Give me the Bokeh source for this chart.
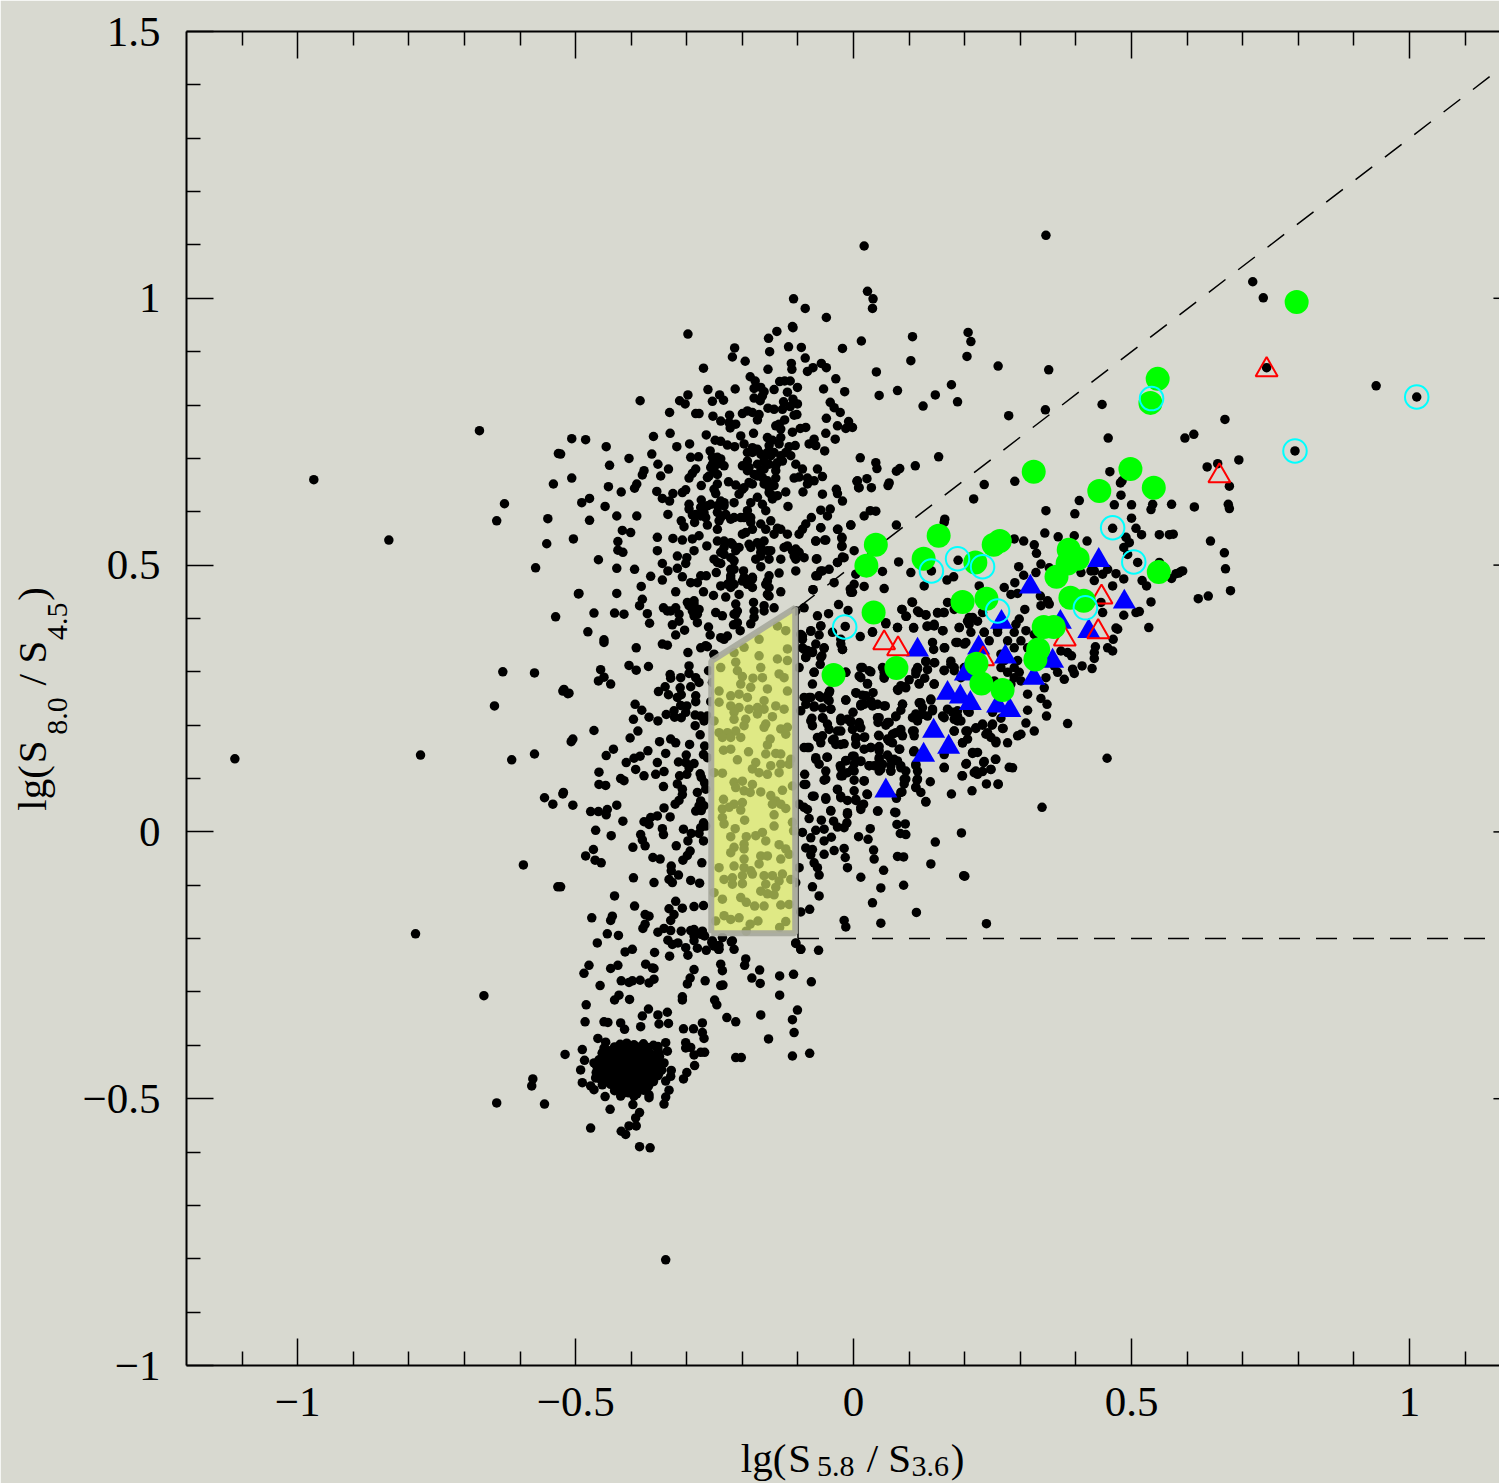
from bokeh.plotting import figure
from bokeh.models import LinearAxis, FixedTicker
from bokeh.embed import file_html
from bokeh.resources import INLINE

# ---------- data: (lg(S5.8/S3.6), lg(S8.0/S4.5)) ----------
upper_stream = [
(-.298,.933),(-.110,.947),(-.138,.938),(-.153,.925),(-.214,.907),(-.218,.890),(-.151,.900),(-.117,.909),(-.094,.908),(-.087,.888),(-.020,.906),(-.195,.882),(-.270,.869),(-.154,.867),(-.112,.878),(-.111,.867),(-.083,.863),(-.073,.870),(-.058,.878),(-.049,.870),(-.032,.849),(-.186,.853),(-.177,.845),(-.133,.844),(-.124,.845),(-.114,.845),(-.262,.829),(-.213,.830),
(-.179,.831),(-.167,.833),(-.161,.825),(-.143,.829),(-.119,.824),(-.101,.833),(-.054,.830),(-.016,.825),(-.241,.819),(-.234,.809),(-.298,.819),(-.313,.808),(-.303,.802),(-.254,.807),(-.384,.808),(-.179,.813),(-.168,.808),(-.164,.817),(-.126,.806),(-.109,.811),(-.101,.802),(-.114,.797),(-.128,.792),(-.143,.792),(-.154,.794),(-.042,.805),(-.035,.795),(-.024,.786),
(-.331,.786),(-.284,.784),(-.278,.784),(-.253,.779),(-.223,.781),(-.200,.784),(-.191,.789),(-.182,.786),(-.170,.782),(-.173,.772),(-.107,.781),(-.102,.782),(-.239,.770),(-.224,.767),(-.212,.764),(-.222,.757),(-.124,.772),(-.134,.764),(-.140,.761),(-.131,.755),(-.049,.775),(-.009,.769),(-.029,.761),(-.014,.756),(-.002,.758),(-.096,.756),(-.086,.758),(-.110,.749),
(-.360,.741),(-.330,.747),(-.265,.744),(-.203,.742),(-.180,.747),(-.155,.739),(-.146,.734),(-.131,.739),(-.134,.727),(-.152,.724),(-.050,.747),(-.033,.736),(-.071,.736),(-.080,.727),(-.068,.724),(-.105,.724),(-.116,.722),(-.507,.737),(-.482,.735),(-.445,.722),(-.527,.708),(-.318,.722),(-.295,.727),(-.249,.734),(-.239,.732),(-.227,.725),(-.214,.722),
(-.197,.727),(-.182,.720),(-.191,.711),(-.167,.708),(-.161,.702),(-.149,.705),(-.131,.705),(-.113,.705),(-.052,.714),(-.258,.714),(-.363,.708),(-.404,.700),(-.439,.687),(-.352,.689),(-.293,.702),(-.279,.703),(-.254,.702),(-.245,.702),(-.254,.689),(-.233,.686),(-.245,.689),
(-.333,.680),(-.377,.677),(-.380,.669),(-.284,.680),(-.290,.672),(-.296,.663),(-.347,.667),(-.507,.663),(-.200,.686),(-.191,.677),(-.179,.670),(-.167,.677),(-.161,.695),(-.137,.692),(-.128,.695),(-.104,.689),(-.092,.680),(-.065,.680),(-.056,.666),(-.140,.677),(-.140,.663),(-.107,.663),(-.098,.665),(-.083,.663),(-.071,.658),(-.083,.652),(.007,.658),(.009,.645),
(-.260,.667),(-.245,.670),(-.245,.652),(-.251,.642),(-.248,.634),(-.274,.649),(-.225,.656),(-.212,.650),(-.188,.655),(-.197,.645),(-.206,.633),(-.215,.617),(-.164,.664),(-.161,.652),(-.152,.636),(-.143,.649),(-.137,.630),(-.146,.624),(-.390,.652),(-.394,.644),(-.441,.647),(-.418,.637),(-.354,.638),(-.344,.625),(-.331,.620),(-.325,.634),(-.308,.636),(-.302,.641),
(-.122,.637),(-.091,.637),(-.056,.633),(-.031,.642),(-.029,.634),(-.020,.620),(-.118,.610),(-.475,.625),(-.489,.617),(-.447,.610),(-.426,.592),(-.390,.592),(-.475,.584),(-.334,.595),(-.274,.622),(-.296,.614),(-.296,.605),(-.290,.594),(-.275,.608),(-.275,.592),(-.263,.611),(-.266,.589),(-.263,.575),(-.239,.620),(-.233,.611),(-.245,.599),(-.230,.595),(-.242,.583),(-.245,.567),
(-.185,.617),(-.173,.627),(-.164,.614),(-.191,.602),(-.158,.602),(-.215,.589),(-.197,.589),(-.185,.580),(-.167,.577),(-.149,.583),(-.137,.569),(-.131,.567),(-.119,.558),(-.059,.603),(-.076,.589),(-.042,.605),(-.047,.592),(-.086,.577),(-.092,.567),(-.098,.558),(-.059,.570),(-.028,.567),(-.005,.575),(-.310,.583),(-.305,.572),(-.286,.580),(-.416,.565),(-.401,.561),(-.424,.544),(-.504,.549),(-.353,.552),(-.325,.550),(-.308,.547),
(-.290,.549),(-.278,.555),(-.264,.536),(-.287,.527),(-.353,.527),(-.424,.528),(-.415,.524),(-.459,.510),(-.245,.545),(-.233,.533),(-.218,.539),(-.206,.533),(-.239,.524),(-.221,.514),(-.215,.508),(-.200,.558),(-.188,.539),(-.167,.533),(-.149,.527),(-.167,.517),(-.152,.511),(-.176,.511),(-.131,.511),(-.125,.533),(-.104,.530),(-.104,.511),(-.089,.514),(-.068,.545),(-.050,.547),(-.021,.550),(-.021,.535),(.001,.527),
(-.317,.517),(-.300,.514),(-.302,.503),(-.251,.511),(-.239,.503),(-.247,.486),(-.221,.492),(-.167,.497),(-.066,.512),(-.104,.489),(-.017,.514),(-.029,.505),(-.044,.492),(-.056,.489),(-.065,.480),(-.344,.503),(-.426,.494),(-.394,.492),(-.334,.489),(-.317,.494),(-.365,.479),(-.344,.472),(-.308,.478),(-.275,.480),(-.265,.480),(-.293,.467),(-.281,.467),
(-.198,.489),(-.200,.470),(-.182,.477),(-.152,.480),(-.134,.485),(-.158,.464),(-.221,.474),(-.239,.461),(-.221,.458),(-.182,.458),(-.155,.445),(-.382,.460),(-.426,.447),(-.494,.447),(-.320,.450),(-.270,.450),(-.252,.443),(-.230,.440),(-.206,.445),(-.131,.450),(-.073,.454),(-.035,.467),(-.005,.449),(.001,.464),
(-.380,.436),(-.385,.424),(-.467,.410),(-.430,.410),(-.413,.408),(-.371,.409),(-.367,.391),(-.342,.420),(-.329,.414),(-.314,.408),(-.314,.395),(-.299,.430),(-.287,.427),(-.281,.408),(-.281,.392),(-.248,.411),(-.236,.405),(-.212,.427),(-.215,.408),(-.209,.392),(-.180,.430),(-.179,.414),(-.161,.424),(-.143,.420),
(-.326,.388),(-.304,.378),(-.320,.369),(-.261,.384),(-.258,.369),(-.216,.388),(-.185,.390),(-.204,.377),(-.227,.367),(-.239,.364),(-.478,.375),(-.449,.360),(-.233,.361),(-.266,.349),(-.251,.333),
]
upper_stream_dense = [
(-.182,.711),(-.173,.717),(-.155,.711),(-.143,.711),(-.122,.711),(-.191,.695),(-.173,.689),(-.152,.689),(-.188,.683),(-.161,.680),(-.173,.667),(-.140,.686),(-.155,.658),(-.182,.652),(-.200,.642),(-.152,.645),(-.149,.633),(-.257,.683),(-.251,.677),(-.239,.699),(-.248,.692),(-.263,.664),(-.233,.617),(-.245,.611),(-.257,.614),(-.269,.598),(-.284,.595),(-.239,.589),(-.221,.586),(-.203,.589),(-.185,.589),(-.182,.567),(-.194,.561),(-.158,.567),(-.143,.558),(-.161,.545),(-.173,.542),(-.155,.527),(-.167,.524),(-.185,.533),(-.233,.545),(-.221,.542),(-.212,.527),(-.233,.520),(-.119,.536),(-.110,.527),(-.098,.524),(-.107,.517),(-.245,.505),(-.215,.492),(-.221,.480),(-.215,.464),(-.227,.464),(-.155,.470),(-.152,.458),(-.152,.442),(-.182,.474),(-.197,.477),(-.191,.464),(-.287,.433),(-.296,.424),(-.290,.414),(-.278,.417),(-.287,.405),(-.335,.414),(-.320,.420),(-.212,.408),(-.179,.402),(-.209,.414),(-.161,.414),
]
lower_stream = [
(-.449,.355),(-.391,.345),(-.335,.350),(-.344,.352),(-.298,.336),(-.275,.345),(-.263,.347),(-.251,.332),(-.404,.312),(-.391,.303),(-.369,.310),(-.296,.311),(-.296,.297),(-.261,.302),(-.455,.304),(-.449,.290),(-.459,.283),(-.437,.277),(-.521,.267),(-.512,.260),
(-.330,.295),(-.329,.288),(-.311,.289),(-.284,.289),(-.278,.280),(-.293,.272),(-.312,.270),(-.339,.272),(-.351,.263),(-.333,.257),(-.317,.252),(-.310,.257),(-.284,.255),(-.284,.244),(-.254,.280),(-.248,.261),(-.393,.239),(-.381,.228),(-.368,.215),(-.396,.211),(-.352,.208),(-.337,.220),(-.323,.227),(-.322,.215),(-.310,.214),(-.311,.237),(-.300,.236),(-.302,.224),(-.285,.219),(-.275,.217),(-.263,.217),(-.269,.208),(-.257,.244),
(-.467,.190),(-.388,.189),(-.402,.176),(-.508,.169),(-.285,.199),(-.276,.182),(-.349,.169),(-.329,.174),(-.320,.167),(-.295,.164),(-.268,.161),(-.432,.155),(-.445,.143),(-.370,.152),(-.384,.142),(-.395,.138),(-.409,.130),(-.338,.147),(-.301,.144),(-.270,.145),(-.263,.139),(-.353,.130),(-.315,.131),(-.302,.130),(-.287,.128),(-.296,.120),
(-.392,.117),(-.458,.112),(-.377,.105),(-.356,.108),(-.341,.113),(-.313,.105),(-.300,.108),(-.276,.109),(-.274,.102),(-.419,.100),(-.413,.096),(-.458,.089),(-.446,.087),(-.342,.085),(-.317,.090),(-.308,.080),(-.268,.092),(-.266,.080),(-.281,.074),(-.522,.074),(-.308,.070),(-.314,.059),(-.321,.052),(-.505,.050),(-.426,.050),(-.275,.058),(-.269,.049),(-.278,.049),
(-.341,.045),(-.473,.038),(-.459,.038),(-.443,.042),(-.445,.032),(-.284,.039),(-.274,.040),(-.353,.030),(-.330,.028),(-.365,.027),(-.377,.019),(-.368,.014),(-.415,.020),(-.270,.017),(-.275,.008),(-.266,.011),(-.464,.003),(-.344,.006),(-.342,-.005),(-.306,.005),(-.292,-.003),(-.278,-.003),(-.436,-.007),(-.383,-.005),(-.380,-.015),(-.270,-.017),(-.298,-.017),
(-.397,-.029),(-.375,-.026),(-.319,-.026),(-.468,-.033),(-.294,-.036),(-.299,-.044),(-.482,-.045),(-.465,-.053),(-.454,-.058),(-.361,-.048),(-.348,-.051),(-.307,-.053),(-.273,-.058),(-.328,-.064),(-.328,-.073),(-.315,-.081),(-.396,-.086),(-.332,-.089),(-.326,-.095),(-.359,-.095),(-.293,-.091),(-.277,-.096),(-.527,-.103),
(-.430,-.120),(-.320,-.130),(-.394,-.139),(-.332,-.144),(-.308,-.143),(-.287,-.140),(-.270,-.138),(-.375,-.155),(-.368,-.158),(-.323,-.155),(-.329,-.166),(-.471,-.161),(-.434,-.158),(-.437,-.166),(-.375,-.173),(-.379,-.181),(-.341,-.181),(-.329,-.185),(-.352,-.188),(-.310,-.186),(-.287,-.183),(-.287,-.195),(-.272,-.186),(-.268,-.195),(-.443,-.191),(-.423,-.194),
(-.334,-.203),(-.326,-.211),(-.316,-.208),(-.302,-.217),(-.461,-.208),(-.254,-.208),(-.242,-.220),(-.281,-.218),(-.265,-.222),(-.411,-.225),(-.398,-.220),(-.358,-.226),(-.331,-.233),(-.298,-.231),(-.476,-.250),(-.437,-.256),(-.424,-.250),(-.374,-.248),(-.362,-.255),(-.287,-.258),(-.239,-.248),
(-.293,-.185),(-.275,-.192),(-.254,-.204),(-.236,-.198),(-.218,-.204),(-.287,-.204),(-.251,-.214),(-.242,-.213),(-.243,-.220),(-.215,-.220),(-.220,-.206),(-.255,-.207),(-.104,-.209),(-.095,-.220),(-.063,-.222),
(-.485,-.265),(-.418,-.279),(-.404,-.282),(-.398,-.279),(-.384,-.278),(-.368,-.283),(-.359,-.276),(-.359,-.256),(-.456,-.288),(-.294,-.274),(-.299,-.285),(-.267,-.279),(-.236,-.260),(-.239,-.288),(-.235,-.287),(-.169,-.259),(-.183,-.274),(-.168,-.284),(-.133,-.270),(-.108,-.267),(-.076,-.281),(-.194,-.238),(-.196,-.250),
(-.422,-.306),(-.430,-.315),(-.403,-.314),(-.481,-.324),(-.308,-.309),(-.308,-.315),(-.250,-.315),(-.246,-.324),(-.133,-.306),(-.369,-.332),(-.380,-.345),(-.352,-.343),(-.335,-.338),(-.167,-.343),(-.101,-.334),(-.228,-.348),(-.212,-.356),(-.110,-.352),(-.483,-.356),(-.449,-.356),(-.442,-.357),(-.419,-.358),(-.412,-.370),(-.383,-.365),(-.350,-.360),(-.333,-.359),(-.306,-.369),(-.288,-.369),(-.272,-.358),(-.272,-.376),(-.269,-.387),(-.107,-.376),(-.153,-.388),
(-.302,-.395),(-.293,-.404),(-.302,-.405),(-.275,-.413),(-.287,-.418),(-.268,-.413),(-.212,-.423),(-.202,-.423),(-.110,-.420),(-.079,-.415),(-.286,-.438),(-.300,-.451),(-.306,-.463),(-.460,-.387),(-.488,-.408),(-.519,-.417),(-.484,-.428),(-.491,-.446),(-.577,-.463),
]
blob_dots = [
(-.420,-.398),(-.408,-.396),(-.395,-.399),(-.378,-.397),(-.360,-.400),(-.440,-.410),(-.428,-.408),(-.413,-.411),(-.400,-.409),(-.386,-.412),(-.372,-.410),(-.352,-.408),
(-.446,-.421),(-.432,-.422),(-.420,-.420),(-.405,-.423),(-.392,-.421),(-.378,-.420),(-.362,-.422),(-.349,-.421),(-.452,-.433),(-.438,-.432),(-.425,-.434),(-.411,-.433),(-.398,-.431),(-.384,-.434),(-.370,-.432),(-.355,-.433),
(-.455,-.445),(-.441,-.444),(-.428,-.446),(-.414,-.445),(-.401,-.443),(-.387,-.446),(-.373,-.444),(-.358,-.445),(-.345,-.446),(-.450,-.457),(-.436,-.456),(-.423,-.458),(-.409,-.457),(-.396,-.455),(-.381,-.458),(-.367,-.456),(-.352,-.457),
(-.444,-.468),(-.430,-.467),(-.417,-.469),(-.403,-.468),(-.389,-.466),(-.375,-.469),(-.360,-.468),(-.425,-.480),(-.412,-.479),(-.398,-.481),(-.385,-.480),(-.370,-.478),(-.415,-.490),(-.405,-.489),(-.390,-.491),
(-.430,-.403),(-.415,-.402),(-.402,-.404),(-.388,-.403),(-.370,-.404),(-.352,-.402),(-.452,-.415),(-.435,-.416),(-.420,-.414),(-.407,-.416),(-.393,-.415),(-.379,-.414),(-.365,-.416),(-.350,-.415),
(-.458,-.427),(-.442,-.426),(-.426,-.428),(-.413,-.427),(-.399,-.426),(-.385,-.428),(-.371,-.427),(-.357,-.426),(-.462,-.439),(-.447,-.438),(-.432,-.440),(-.418,-.439),(-.405,-.438),(-.391,-.440),(-.377,-.439),(-.364,-.438),(-.350,-.440),
(-.463,-.451),(-.448,-.450),(-.434,-.452),(-.420,-.451),(-.407,-.450),(-.393,-.452),(-.379,-.451),(-.365,-.450),(-.350,-.452),(-.458,-.462),(-.443,-.461),(-.430,-.463),(-.416,-.462),(-.402,-.461),(-.388,-.463),(-.374,-.462),(-.360,-.461),
(-.452,-.474),(-.437,-.473),(-.424,-.475),(-.410,-.474),(-.396,-.473),(-.382,-.475),(-.368,-.474),(-.430,-.485),(-.417,-.484),(-.405,-.486),(-.392,-.485),(-.378,-.484),
(-.449,-.405),(-.452,-.414),(-.488,-.470),(-.473,-.476),(-.467,-.483),(-.464,-.461),(-.467,-.433),(-.447,-.496),(-.438,-.520),(-.556,-.510),(-.473,-.555),(-.397,-.511),(-.419,-.495),(-.395,-.495),(-.368,-.498),(-.368,-.493),(-.341,-.510),(-.338,-.497),(-.332,-.484),(-.338,-.467),(-.329,-.458),(-.328,-.447),(-.341,-.433),(-.335,-.411),(-.338,-.395),(-.446,-.394),
(-.385,-.526),(-.392,-.536),(-.391,-.551),(-.404,-.551),(-.418,-.561),(-.410,-.567),(-.385,-.590),(-.366,-.592),
]
far_left_dots = [
(-1.113,.137),(-.971,.660),(-.836,.547),(-.779,.144),(-.788,-.191),(-.665,-.307),(-.673,.752),(-.642,-.508),(-.579,-.476),(-.642,.583),(-.628,.615),(-.631,.300),(-.646,.236),(-.615,.135),(-.574,.298),(-.574,.146),(-.594,-.062),(-.532,-.103),(-.338,-.802),
(-.572,.495),(-.550,.587),(-.552,.540),(-.536,.403),(-.531,.709),(-.523,.264),(-.514,.259),(-.505,.174),(-.556,.064),(-.541,.052),(-.523,.071),(-.495,.446),(-.540,.652),
]
wedge_dots = [
(-.089,.420),(-.104,.414),(-.065,.405),(-.045,.409),(-.027,.426),(-.010,.415),(-.015,.385),(.012,.366),(-.059,.386),(-.077,.376),(-.062,.369),(-.038,.374),(-.095,.370),(-.092,.361),(-.023,.352),(-.020,.342),(-.068,.352),(-.083,.340),(-.074,.338),(-.092,.345),(-.053,.344),(-.057,.330),(-.060,.314),(-.086,.327),(-.098,.308),(-.071,.299),
(.058,.390),(.079,.383),(.034,.374),(.087,.417),(.095,.404),(.106,.430),(.118,.411),(.130,.407),(.151,.410),(.162,.411),(.108,.382),(.132,.385),(.145,.386),(.161,.377),(.190,.383),(.208,.389),(.214,.402),(.235,.374),(.259,.380),(.142,.355),(.144,.342),(.164,.345),(.184,.355),(.199,.352),(.130,.319),(.146,.317),(.175,.320),(.163,.303),(.181,.302),(.133,.304),(.115,.305),(.112,.296),(.128,.288),(.145,.277),(.100,.285),(.118,.278),
(.016,.308),(.031,.300),(.010,.292),(.025,.278),(.055,.299),(.055,.288),(-.014,.299),(.093,.272),(.080,.265),(.035,.261),(.005,.260),(.016,.256),(-.014,.247),(-.043,.264),(-.047,.255),(-.077,.252),(-.089,.252),(-.059,.252),(-.044,.246),(-.086,.239),(-.071,.234),(-.056,.232),(-.041,.230),(-.095,.227),
(.031,.245),(.019,.239),(.043,.239),(.057,.236),(.013,.236),(.088,.239),(.085,.228),(.121,.242),(.124,.233),(.139,.247),(.142,.230),(.169,.230),(.187,.227),(.205,.227),(.250,.224),(-.001,.224),(-.011,.211),(-.023,.213),(.046,.214),(.076,.216),(.044,.205),(.064,.205),(.058,.200),(.112,.221),(.106,.214),(.115,.208),(.133,.217),(.160,.217),(.181,.211),(.193,.208),(.187,.217),(.265,.213),
(-.075,.213),(-.074,.199),(-.055,.213),(-.047,.202),(-.044,.192),(-.029,.189),(-.005,.205),(.010,.202),(-.002,.192),(.013,.195),(.076,.186),(.085,.192),(.088,.180),(.106,.189),(.109,.180),(.232,.200),(.220,.194),(.249,.200),(.269,.194),(.181,.189),(.205,.189),(.241,.186),(.247,.177),
(-.065,.177),(-.056,.180),(-.059,.167),(-.038,.172),(-.023,.164),(-.017,.165),(.004,.174),(.020,.178),(.045,.181),(.061,.174),(.070,.167),(.205,.174),(.196,.167),(.256,.167),(.277,.167),(-.089,.158),(-.080,.158),(.019,.155),(.031,.158),(.046,.160),(.083,.155),(.108,.150),(.214,.147),(.223,.149),
(-.068,.139),(-.048,.140),(-.002,.142),(.046,.139),(.061,.144),(.067,.136),(.079,.133),(-.062,.127),(-.014,.133),(.013,.133),(.001,.127),(-.024,.124),(.028,.124),(.037,.124),(.052,.127),(.067,.124),(.085,.124),(.112,.127),(.203,.128),(.234,.130),(.255,.136),(.163,.121),
(-.050,.114),(.001,.114),(-.023,.105),(-.011,.111),(.046,.114),(.067,.114),(.094,.114),(.115,.114),(.217,.111),(.232,.113),(.247,.117),(.280,.121),(.195,.105),(.223,.108),(-.088,.108),(-.053,.097),(.001,.097),(.019,.096),(.094,.099),(.114,.097),(.138,.094),(.091,.090),(.239,.090),(.260,.090),(-.089,.089),
(.001,.077),(-.029,.079),(.024,.071),(-.074,.067),(-.050,.064),(-.023,.067),(-.011,.059),(.004,.059),(.087,.075),(.112,.084),(.121,.074),(.077,.063),(.130,.057),(.176,.071),(.213,.077),(-.098,.052),(-.083,.042),(-.041,.040),(.013,.042),(.018,.052),(.044,.039),(.074,.037),
(-.080,.025),(-.058,.022),(-.011,.036),(-.036,.020),(-.012,.017),(-.029,.009),(-.017,.008),(.078,.014),(.093,.015),(.030,.006),(-.092,-.001),(-.068,.003),(-.053,.005),(.084,-.003),(.094,-.005),(.194,-.002),(.009,-.009),(.026,-.014),(-.077,-.011),(-.053,-.017),(-.040,-.010),(.147,-.019),
(-.086,-.030),(-.074,-.033),(-.077,-.043),(-.053,-.042),(-.035,-.035),(-.017,-.031),(.036,-.034),(-.015,-.048),(.037,-.051),(.079,-.046),(.090,-.047),(-.071,-.058),(-.011,-.067),(-.065,-.067),(.139,-.060),(-.098,-.067),(.054,-.072),(-.062,-.081),(.013,-.085),(.200,-.083),(.090,-.100),(.049,-.105),(-.074,-.103),(-.062,-.120),(.034,-.133),(-.104,-.095),(-.095,-.150),(-.079,-.145),(.113,-.151),(-.017,-.166),(-.014,-.178),(.049,-.171),(.239,-.172),(-.104,-.208),(-.095,-.220),
]
wedge_dense = [
(-.077,.377),(-.059,.386),(-.023,.361),(-.020,.342),(-.092,.367),(-.053,.345),(-.089,.342),(-.074,.336),(-.059,.327),(-.086,.327),(-.071,.299),(.013,.308),(.028,.302),(.013,.289),(.055,.292),(.052,.308),(.112,.302),(.130,.320),(.145,.317),(.115,.308),(.085,.274),(.094,.270),(.118,.277),(.145,.277),(-.014,.299),(.025,.277),(-.074,.277),(-.044,.261),
(-.062,.255),(-.047,.249),(-.080,.252),(-.041,.230),(-.071,.236),(-.014,.247),(.004,.261),(.022,.255),(.013,.239),(.034,.236),(.055,.236),(.088,.239),(.079,.267),(.118,.242),(.139,.249),(.124,.220),(.112,.214),(.142,.227),(.163,.214),(.187,.208),(.178,.224),(.208,.224),(.232,.202),(.250,.202),(.043,.214),(.076,.217),(.061,.205),(.010,.205),(-.005,.208),(-.023,.208),(-.056,.214),(-.077,.208),
(-.059,.177),(-.035,.174),(-.023,.189),(.004,.177),(.019,.177),(.046,.180),(.070,.183),(.085,.186),(.109,.189),(.181,.189),(.202,.189),(.220,.195),(.238,.183),(.256,.170),(-.083,.158),(-.032,.164),(.004,.164),(.031,.158),(.046,.152),(.064,.170),(.082,.155),(.109,.152),(.163,.145),(.196,.167),(.214,.149),
(-.068,.136),(-.047,.140),(-.014,.134),(.001,.142),(.013,.132),(.046,.136),(.073,.136),(-.023,.120),(-.002,.117),(.028,.124),(.049,.117),(.085,.120),(.112,.124),(.163,.120),(.202,.127),(.235,.132),(-.050,.099),(-.020,.105),(.019,.095),(.067,.114),(.091,.099),(.115,.099),(.196,.105),(.220,.114),(-.086,.089),(-.029,.080),(.025,.070),(.112,.083),(.085,.074),(-.071,.067),(-.023,.064),(.004,.061),(-.050,.061),(-.089,.046),(-.041,.039),(-.011,.033),(.013,.046),(.043,.039),(.076,.036),(.130,.056),
]
right_dots = [
(-.059,.570),(-.029,.567),(-.005,.575),(.077,.575),(-.021,.552),(-.068,.545),(-.052,.547),(-.021,.536),(-.067,.511),(-.029,.505),(-.020,.515),(.081,.506),(.052,.488),(.103,.486),(-.059,.489),(-.068,.480),(.004,.483),(-.006,.455),(-.002,.449),(.019,.460),(.055,.456),(-.073,.454),(.127,.461),(.168,.472),(.180,.478),(.188,.509),(.140,.489),(.226,.461),
(.163,.580),(.289,.549),(.306,.545),(.325,.538),(.329,.522),(.344,.560),(.368,.553),(.397,.555),(.420,.545),(.550,.557),(.568,.557),(.575,.558),(.508,.569),(.518,.557),(.490,.552),(.496,.542),(.486,.533),(.493,.520),(.511,.505),(.550,.505),(.589,.488),(.580,.484),(.572,.475),(.519,.471),(.527,.461),(.486,.474),(.466,.461),(.472,.484),(.448,.483),(.466,.569),
(.297,.497),(.306,.481),(.290,.467),(.271,.458),(.283,.445),(.295,.447),(.328,.486),(.337,.502),(.352,.495),(.336,.442),(.409,.486),(.427,.489),(.433,.489),(.457,.492),(.433,.471),(.349,.433),(.308,.417),(.337,.424),(.298,.399),(.292,.389),(.289,.374),(.310,.377),(.325,.370),(.352,.427),(.445,.430),(.448,.411),(.535,.431),(.620,.437),(.508,.411),(.514,.413),(.486,.406),(.531,.383),(.472,.382),(.475,.380),(.467,.361),(.457,.345),(.466,.339),(.435,.347),(.433,.336),(.433,.325),(.411,.311),(.429,.306),
(.373,.339),(.385,.336),(.392,.330),(.361,.311),(.367,.299),(.379,.286),(.394,.305),(.397,.297),(.346,.289),(.343,.270),(.337,.250),(.348,.239),(.313,.258),(.313,.228),(.347,.217),(.385,.203),(.325,.189),(.310,.204),(.456,.138),(.339,.046),(.295,.180),(.301,.183),(.286,.120),(.256,.136),(.247,.117),(.260,.089),(.268,.194),
(.265,.308),(.277,.299),(.289,.308),(.298,.299),(.289,.289),(.271,.321),(.295,.321),(.301,.283),(.283,.277),(.199,.308),(.175,.314),(.163,.302),(.193,.289),(.181,.308),(.253,.283),(.265,.333),(.244,.358),(.259,.374),(.289,.345),(.313,.345),(.301,.358),(.277,.358),(.205,.395),(.223,.395),(.190,.383),(.211,.374),(.235,.374),(.202,.355),(.187,.355),(.163,.345),(.145,.389),(.133,.386),(.160,.377),(.108,.383),(.079,.383),(.058,.392),(.034,.375),(.151,.411),(.163,.411),(.169,.430),(.115,.414),(.130,.406),(.094,.404),(.087,.417),(.105,.431),(.181,.417),(.208,.402),(.232,.411),
(.642,.545),(.667,.523),(.669,.493),(.678,.452),(.638,.442),(.585,.485),(.592,.489),(.198,-.082),
]
top_dots = [
(.019,1.098),(.346,1.118),(.025,1.013),(.035,.999),(.034,.981),(-.108,.999),(-.087,.981),(-.049,.964),(-.109,.945),(.206,.936),(.106,.928),(.211,.919),(.014,.920),(.204,.891),(.103,.883),(.260,.873),(.351,.866),(.041,.862),(.176,.838),(.079,.827),(.046,.818),(.147,.819),(.187,.806),(.125,.798),(.279,.780),(.345,.791),(.012,.701),(.153,.703),(.040,.692),(.042,.681),(.111,.686),(.083,.681),(.077,.676),(.024,.662),(.006,.657),(.010,.645),(.032,.645),(.064,.654),(.062,.649),(.235,.651),(.290,.657),(.216,.624),(.346,.602),(.398,.596),(.406,.621),(.164,.586),(.019,.592),(.030,.602),(.040,.601),
(.718,1.031),(.737,1.001),(.743,.870),(.940,.836),(1.013,.815),(.794,.714),(.668,.773),(.612,.745),(.596,.738),(.458,.738),(.447,.801),(.693,.697),(.655,.690),(.636,.684),(.676,.648),(.461,.675),(.483,.658),(.480,.654),(.481,.631),(.469,.613),(.500,.613),(.538,.614),(.535,.604),(.572,.614),(.613,.609),(.674,.614),(.676,.606),(.500,.588),
]
box_dots = [
(-.137,.386),(-.122,.377),(-.170,.361),(-.119,.343),(-.215,.336),(-.197,.346),(-.170,.330),(-.137,.324),(-.119,.321),(-.239,.308),(-.212,.318),(-.209,.302),(-.167,.308),(-.164,.289),(-.200,.291),(-.181,.288),(-.134,.296),(-.125,.289),(-.203,.277),(-.242,.264),(-.155,.268),(-.185,.271),(-.221,.255),(-.206,.258),(-.191,.252),(-.119,.264),(-.242,.243),(-.161,.246),(-.221,.236),(-.206,.233),(-.188,.230),(-.173,.233),(-.161,.230),(-.140,.236),(-.125,.230),(-.215,.224),(-.173,.221),(-.146,.216),(-.251,.208),(-.215,.211),(-.194,.211),(-.158,.202),(-.197,.199),(-.161,.196),(-.131,.193),(-.119,.196),
(-.242,.186),(-.227,.186),(-.212,.189),(-.236,.177),(-.221,.177),(-.203,.177),(-.122,.183),(-.150,.174),(-.155,.163),(-.234,.153),(-.221,.155),(-.189,.150),(-.158,.146),(-.140,.147),(-.131,.146),(-.209,.135),(-.176,.130),(-.131,.127),(-.113,.136),(-.182,.118),(-.149,.124),(-.170,.111),(-.155,.108),(-.134,.111),(-.116,.127),(-.236,.110),(-.251,.111),
(-.215,.093),(-.200,.095),(-.182,.089),(-.212,.083),(-.197,.077),(-.186,.074),(-.167,.075),(-.128,.078),(-.110,.086),(-.149,.068),(-.140,.058),(-.234,.061),(-.215,.052),(-.200,.055),(-.236,.043),(-.224,.046),(-.203,.041),(-.146,.052),(-.131,.052),(-.122,.044),(-.236,.027),(-.196,.022),(-.143,.032),(-.110,.018),(-.233,.015),(-.143,.011),(-.213,.006),(-.108,.002),
(-.176,-.007),(-.164,-.001),(-.221,-.009),(-.193,-.009),(-.158,-.017),(-.197,-.023),(-.134,-.024),(-.215,-.029),(-.221,-.039),(-.197,-.032),(-.122,-.032),(-.116,-.042),(-.167,-.045),(-.155,-.045),(-.197,-.051),(-.131,-.051),(-.170,-.060),(-.242,-.067),(-.215,-.064),(-.197,-.067),(-.185,-.073),(-.128,-.079),(-.233,-.089),(-.218,-.086),(-.200,-.082),(-.182,-.079),(-.161,-.082),(-.146,-.082),(-.134,-.092),(-.113,-.089),
(-.218,-.098),(-.200,-.097),(-.158,-.098),(-.140,-.104),(-.167,-.111),(-.155,-.116),(-.143,-.118),(-.251,-.114),(-.236,-.126),(-.203,-.123),(-.193,-.132),(-.178,-.139),(-.161,-.139),(-.131,-.137),(-.116,-.136),(-.233,-.157),(-.221,-.164),(-.206,-.161),(-.248,-.167),(-.172,-.167),(-.186,-.173),(-.122,-.168),(-.133,-.179),(-.193,-.186),
]
green_dots = [
(.797,.993),(.547,.849),(.534,.804),(.324,.675),(.498,.680),(.442,.639),(.540,.645),(.153,.555),(.040,.538),(.023,.499),(.126,.512),(.219,.505),(.252,.538),(.263,.545),(.387,.529),(.403,.512),(.385,.503),(.365,.478),(.549,.487),(.196,.431),(.239,.437),(.036,.411),(.390,.439),(.414,.433),(.342,.384),(.360,.384),(.332,.342),(.327,.323),(.077,.307),(-.036,.294),(.221,.315),(.230,.278),(.268,.266),
]
cyan_rings = [(-.016,.384),(.140,.489),(.187,.512),(.232,.497),(.259,.414),(.417,.420),(.466,.570),(.504,.506),(.536,.812),(.794,.714),(1.013,.815)]
red_triangles = [(.055,.354),(.080,.343),(.233,.324),(.380,.361),(.446,.440),(.440,.375),(.743,.866),(.658,.667)]
blue_triangles = [(.058,.077),(.115,.341),(.126,.144),(.171,.159),(.144,.189),(.169,.260),(.192,.253),(.210,.241),(.225,.345),(.201,.296),(.266,.393),(.273,.328),(.281,.228),(.259,.236),(.324,.288),(.318,.459),(.358,.320),(.372,.393),(.423,.376),(.441,.509),(.487,.431)]

box_x = [-.256, -.256, -.105, -.105, -.256]
box_y = [-.19, .32, .42, -.19, -.19]
wedge_slope, wedge_icpt = 0.8, 0.5
x_major = [-1, -.5, 0, .5, 1]
y_major = [-1, -.5, 0, .5, 1, 1.5]
x_minor = [-1.1,-.9,-.8,-.7,-.6,-.4,-.3,-.2,-.1,.1,.2,.3,.4,.6,.7,.8,.9,1.1]
y_minor = [-.9,-.8,-.7,-.6,-.4,-.3,-.2,-.1,.1,.2,.3,.4,.6,.7,.8,.9,1.1,1.2,1.3,1.4]
x_tick_text = {-1: "\u22121", -.5: "\u22120.5", 0: "0", .5: "0.5", 1: "1"}
y_tick_text = {-1: "\u22121", -.5: "\u22120.5", 0: "0", .5: "0.5", 1: "1", 1.5: "1.5"}

# axis titles, piece by piece: centre along the axis -> text
x_title = {-.162: "lg(", -.097: "S", .034: "/", .083: "S", .187: ")"}
x_title_sub = {-.032: "5.8", .138: "3.6"}
y_title = {.0825: "lg(", .150: "S", .285: "/", .337: "S", .446: ")"}
y_title_sub = {.217: "8.0", .395: "4.5"}

BG = "#d8d9d0"
FONT = "Liberation Serif"
XR = (-1.2, 1.1619)

p = figure(width=1499, height=1483, output_backend="svg", toolbar_location=None,
           x_range=XR, y_range=(-1, 1.5), background_fill_color=BG, border_fill_color=BG,
           min_border_left=186, min_border_right=0, min_border_top=31, min_border_bottom=118,
           outline_line_color=None, x_axis_type=None, y_axis_type=None)
p.grid.visible = False

def style(ax, major, minor, texts=None):
    ax.ticker = FixedTicker(ticks=major, minor_ticks=minor)
    ax.axis_line_width = 2
    ax.major_tick_in, ax.major_tick_out = 27, 0
    ax.minor_tick_in, ax.minor_tick_out = 14, 0
    ax.major_tick_line_width = 1.5
    ax.minor_tick_line_width = 1.5
    ax.major_label_text_font = FONT
    ax.major_label_text_font_size = "43px"
    ax.major_label_text_color = "black"
    if texts:
        ax.major_label_overrides = texts

bottom = LinearAxis(); style(bottom, x_major, x_minor, x_tick_text); bottom.major_label_standoff = 22
left = LinearAxis(); style(left, y_major, y_minor, y_tick_text); left.major_label_standoff = 26
top = LinearAxis(); style(top, x_major, x_minor)
top.major_label_text_font_size = "0px"; top.major_label_standoff = 0
top.major_label_overrides = {t: "" for t in x_major}
p.add_layout(bottom, "below"); p.add_layout(left, "left"); p.add_layout(top, "above")

# title pieces carried by bare axes stacked outside the tick-label axes
def title_axis(place, pieces, standoff, size, **kw):
    ax = LinearAxis(ticker=FixedTicker(ticks=list(pieces), minor_ticks=[]),
                    major_label_overrides=pieces, axis_line_color=None,
                    major_tick_line_color=None, minor_tick_line_color=None,
                    major_tick_in=0, major_tick_out=0, minor_tick_in=0, minor_tick_out=0,
                    major_label_standoff=standoff, major_label_text_font=FONT,
                    major_label_text_font_size=size, major_label_text_color="black", **kw)
    p.add_layout(ax, place)

title_axis("below", x_title, 16, "41px")
title_axis("below", x_title_sub, -27, "30px")
# a last, blank axis with a negative extent hands the overflow back to the frame
title_axis("below", {0: " "}, -45, "1px")
title_axis("left", y_title, 24, "41px", major_label_orientation="vertical")
title_axis("left", y_title_sub, -61, "30px", major_label_orientation="vertical")

def xy(pts):
    return [a for a, b in pts], [b for a, b in pts]

all_black = (upper_stream + upper_stream_dense + lower_stream + blob_dots + far_left_dots
             + wedge_dots + wedge_dense + right_dots + top_dots)
bx, by = xy(all_black)
p.scatter(bx, by, marker="circle", size=9.5, fill_color="black", line_color=None)

# right-hand ticks (the frame's right edge lies beyond the picture)
rt = [-.5, 0, .5, 1]
p.segment([1.151]*4, rt, [XR[1]]*4, rt, line_color="black", line_width=1.5)

# selection lines
p.line([-.1, -.1], [-.2, wedge_slope*-.1 + wedge_icpt], line_color="black", line_width=1.5)
p.line([-.1, XR[1]], [-.2, -.2], line_color="black", line_width=1.5, line_dash="21 16")
p.line([-.1, XR[1]], [wedge_slope*-.1 + wedge_icpt, wedge_slope*XR[1] + wedge_icpt],
       line_color="black", line_width=1.5, line_dash="21 16")

# highlighted box
p.patch(box_x, box_y, fill_color="#dfe985", line_color=None)
ox, oy = xy(box_dots)
p.scatter(ox, oy, marker="circle", size=9.5, fill_color="#8e9b45", line_color=None)
p.line(box_x, box_y, line_color="#a6a79c", line_width=6, line_alpha=0.9)

gx, gy = xy(green_dots)
tx, ty = xy(blue_triangles)
p.scatter(tx, ty, marker="triangle", size=23, fill_color="#0000ff", line_color=None)
rx, ry = xy(red_triangles)
p.scatter(rx, ry, marker="triangle", size=22, fill_color=None, line_color="#ff0000", line_width=2)
p.scatter(gx, gy, marker="circle", size=24, fill_color="#00ff00", line_color=None)
cx, cy = xy(cyan_rings)
p.scatter(cx, cy, marker="circle", size=23.5, fill_color=None, line_color="#00ffff", line_width=2)

open("out.html", "w").write(file_html(p, INLINE))
